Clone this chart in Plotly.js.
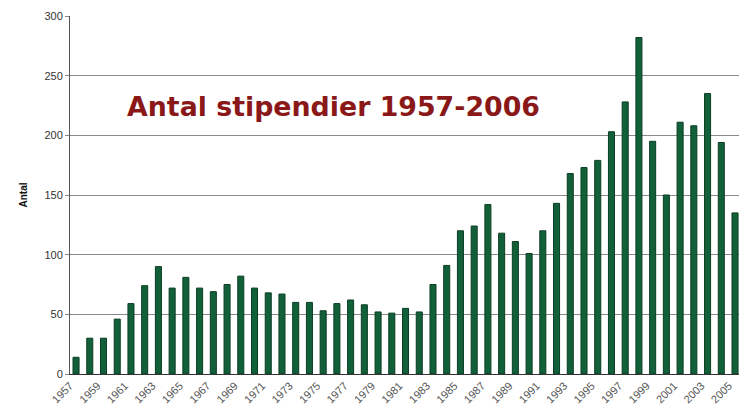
<!DOCTYPE html>
<html>
<head>
<meta charset="utf-8">
<script src="https://cdn.plot.ly/plotly-3.0.1.min.js"></script>
<style>html,body{margin:0;padding:0;background:#fff;}#chart{width:739px;height:413px;}</style>
</head>
<body>
<div id="chart"></div>
<script>
// Years shown (the 2006 bar falls outside the visible crop)
const years = [1957,1958,1959,1960,1961,1962,1963,1964,1965,1966,1967,1968,1969,1970,1971,1972,1973,1974,1975,1976,1977,1978,1979,1980,1981,1982,1983,1984,1985,1986,1987,1988,1989,1990,1991,1992,1993,1994,1995,1996,1997,1998,1999,2000,2001,2002,2003,2004,2005];
const antal = [14,30,30,46,59,74,90,72,81,72,69,75,82,72,68,67,60,60,53,59,62,58,52,51,55,52,75,91,120,124,142,118,111,101,120,143,168,173,179,203,228,282,195,150,211,208,235,194,135];
const tickYears = [1957,1959,1961,1963,1965,1967,1969,1971,1973,1975,1977,1979,1981,1983,1985,1987,1989,1991,1993,1995,1997,1999,2001,2003,2005];
const tickLabels = tickYears.map(String);
const chartTitle = 'Antal stipendier 1957-2006';
const yTitle = 'Antal';

const trace = {
  type: 'bar',
  x: years,
  y: antal,
  marker: {color: '#12603a', line: {color: '#0b3d22', width: 1}},
  hoverinfo: 'x+y'
};

const layout = {
  width: 739, height: 413,
  margin: {l: 70, r: 0, t: 16, b: 39, pad: 0},
  paper_bgcolor: '#ffffff', plot_bgcolor: '#ffffff',
  bargap: 0.56,
  showlegend: false,
  font: {family: 'Liberation Sans, Arial, sans-serif', color: '#333'},
  xaxis: {
    range: [1956.56, 2005.29],
    tickmode: 'array', tickvals: tickYears, ticktext: tickLabels,
    tickangle: -45,
    tickfont: {size: 11, color: '#555'},
    ticks: '', showgrid: false, zeroline: false,
    showline: true, linecolor: '#333', linewidth: 1,
    ticklabelshift: -6
  },
  yaxis: {
    range: [0, 300], dtick: 50, tick0: 0,
    tickfont: {size: 11, color: '#333'},
    ticks: 'outside', ticklen: 4, tickcolor: '#888',
    showgrid: true, gridcolor: '#8a8a8a', gridwidth: 1,
    zeroline: false,
    showline: true, linecolor: '#555', linewidth: 1,
    title: {text: yTitle, font: {size: 10, color: '#111', family: 'Liberation Sans, Arial, sans-serif', weight: 'bold'}, standoff: 14}
  },
  annotations: [{
    text: '<b>' + chartTitle + '</b>',
    xref: 'paper', yref: 'paper',
    x: (125 - 70) / 669, y: (374 - 106) / 358,
    xanchor: 'left', yanchor: 'middle',
    showarrow: false,
    font: {family: 'DejaVu Sans, sans-serif', size: 26.8, color: '#8a1818'}
  }]
};

Plotly.newPlot('chart', [trace], layout, {displayModeBar: false, staticPlot: true});
</script>
</body>
</html>
